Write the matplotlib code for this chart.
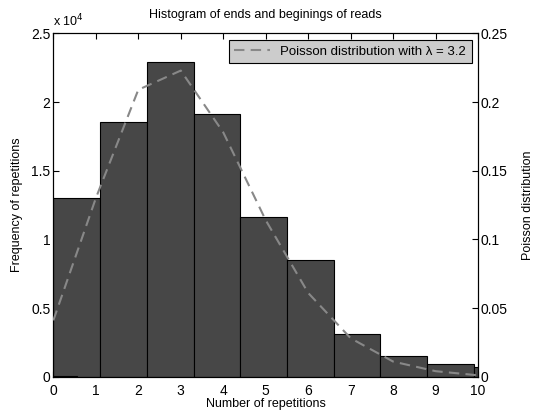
import matplotlib
matplotlib.use("Agg")
import matplotlib.pyplot as plt
import numpy as np

plt.rcParams['font.family'] = ['Liberation Sans', 'DejaVu Sans']

# Histogram data (counts in units of 1e4)
bin_centers = [0.0, 0.55, 1.65, 2.75, 3.85, 4.95, 6.05, 7.15, 8.25, 9.35, 10.45]
bin_widths = [1.1, 1.1, 1.1, 1.1, 1.1, 1.1, 1.1, 1.1, 1.1, 1.1, 1.1]
counts = [0.003, 1.304, 1.853, 2.290, 1.911, 1.165, 0.850, 0.313, 0.148, 0.090, 0.068]
# Bars drawn in order so the tiny bar at 0 sits on top
draw_order = [1, 2, 3, 4, 5, 6, 7, 8, 9, 10, 0]

# Poisson distribution points
k_values = [0, 1, 2, 3, 4, 5, 6, 7, 8, 9, 10]
poisson_p = [0.041, 0.130, 0.209, 0.223, 0.178, 0.114, 0.061, 0.028, 0.011, 0.004, 0.001]

xticks = [0, 1, 2, 3, 4, 5, 6, 7, 8, 9, 10]
yticks_left = [0, 0.5, 1, 1.5, 2, 2.5]
yticks_right = [0, 0.05, 0.1, 0.15, 0.2, 0.25]

fig = plt.figure(figsize=(5.36, 4.11), dpi=100)
ax = fig.add_axes([0.0995, 0.0835, 0.7925, 0.835])

for i in draw_order:
    ax.bar(bin_centers[i], counts[i], width=bin_widths[i], color='#474747',
           edgecolor='black', linewidth=0.8, zorder=2)

ax.set_xlim(0, 10)
ax.set_ylim(0, 2.5)
ax.set_xticks(xticks)
ax.set_xticklabels([str(t) for t in xticks])
ax.set_yticks(yticks_left)
ax.set_yticklabels(['0', '0.5', '1', '1.5', '2', '2.5'])
ax.tick_params(direction='in', length=4, labelsize=10, top=True, right=False, pad=2)
ax.tick_params(axis='x', pad=5)
ax.set_xlabel('Number of repetitions', fontsize=9, labelpad=0)
ax.set_ylabel('Frequency of repetitions', fontsize=9, labelpad=6)
ax.set_title('Histogram of ends and beginings of reads', fontsize=9, pad=11)
ax.text(0.0, 1.012, r'x 10$^{4}$', transform=ax.transAxes, fontsize=9, ha='left', va='bottom')

ax2 = ax.twinx()
ax2.set_ylim(0, 0.25)
ax2.set_yticks(yticks_right)
ax2.set_yticklabels(['0', '0.05', '0.1', '0.15', '0.2', '0.25'])
ax2.tick_params(direction='in', length=4, labelsize=10, pad=2)
ax2.set_ylabel('Poisson distribution', fontsize=9, labelpad=10)
line, = ax2.plot(k_values, poisson_p, linestyle='--', color='#888888', linewidth=1.5,
                 dashes=(5, 3), label='Poisson distribution with λ = 3.2', zorder=3)
leg = ax2.legend(loc='upper right', fontsize=9.5, frameon=True, fancybox=False,
                 facecolor='#cccccc', edgecolor='black', framealpha=1,
                 borderaxespad=0.5, handlelength=2.7, borderpad=0.4)
leg.get_frame().set_linewidth(0.8)

fig.savefig('out.png', dpi=100)
